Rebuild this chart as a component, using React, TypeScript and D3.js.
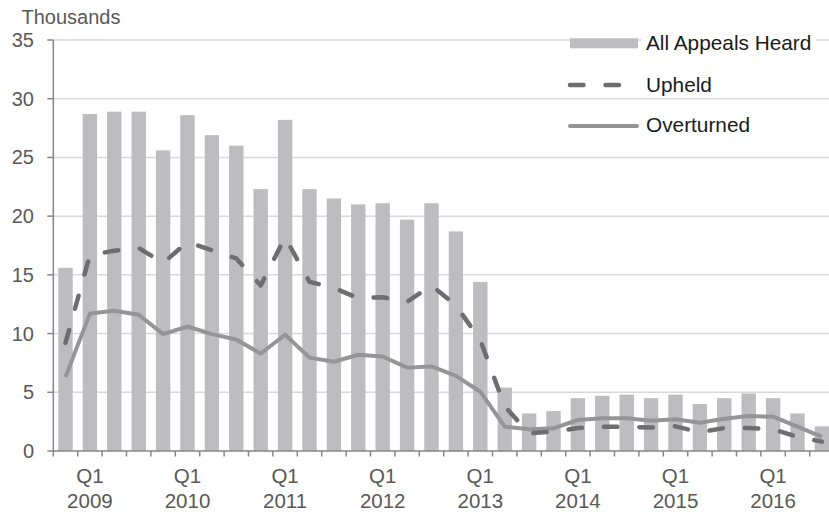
import React from "react";
import * as d3 from "d3";

const quarters = [
  "Q4 2008",
  "Q1 2009", "Q2 2009", "Q3 2009", "Q4 2009",
  "Q1 2010", "Q2 2010", "Q3 2010", "Q4 2010",
  "Q1 2011", "Q2 2011", "Q3 2011", "Q4 2011",
  "Q1 2012", "Q2 2012", "Q3 2012", "Q4 2012",
  "Q1 2013", "Q2 2013", "Q3 2013", "Q4 2013",
  "Q1 2014", "Q2 2014", "Q3 2014", "Q4 2014",
  "Q1 2015", "Q2 2015", "Q3 2015", "Q4 2015",
  "Q1 2016", "Q2 2016", "Q3 2016",
];

const allHeard = [
  15.6,
  28.7, 28.9, 28.9, 25.6,
  28.6, 26.9, 26.0, 22.3,
  28.2, 22.3, 21.5, 21.0,
  21.1, 19.7, 21.1, 18.7,
  14.4, 5.4, 3.2, 3.4,
  4.5, 4.7, 4.8, 4.5,
  4.8, 4.0, 4.5, 4.9,
  4.5, 3.2, 2.1,
];

const upheld = [
  9.2,
  16.7, 17.05, 17.3, 16.0,
  17.8, 17.1, 16.4, 14.1,
  18.2, 14.4, 13.9, 13.0,
  13.1, 12.7, 14.1, 12.4,
  9.45, 3.8, 1.5, 1.65,
  1.95, 2.07, 2.05, 2.0,
  2.1, 1.6, 1.95, 1.95,
  1.85, 1.2, 0.8,
];

const overturned = [
  6.3,
  11.7, 11.95, 11.6, 9.95,
  10.6, 9.95, 9.5, 8.3,
  9.9, 7.95, 7.6, 8.2,
  8.05, 7.1, 7.2, 6.4,
  5.05, 2.07, 1.85, 1.93,
  2.64, 2.78, 2.78, 2.58,
  2.7, 2.41, 2.75, 2.98,
  2.92, 2.07, 1.2,
];

const yTicks = [0, 5, 10, 15, 20, 25, 30, 35];
const legendLabels = ["All Appeals Heard", "Upheld", "Overturned"];

const W = 829;
const H = 512;
const x0 = 53.3;
const step = 24.4;
const FONT = "Liberation Sans, Arial, sans-serif";

const BAR = "#bdbdc0";
const UPHELD = "#6e6e70";
const OVER = "#959597";
const GRID = "#d9d9d9";
const AXIS = "#868686";
const LABEL = "#595959";
const DASH = "13.5 22";

export default function App() {
  const x = d3
    .scaleBand<number>()
    .domain(quarters.map((_, i) => i))
    .range([x0, x0 + step * quarters.length])
    .paddingInner(0.41)
    .paddingOuter(0.205);
  const y = d3.scaleLinear().domain([0, 35]).range([451, 40]);
  const cx = (i: number) => (x(i) as number) + x.bandwidth() / 2;

  const lineGen = d3
    .line<number>()
    .x((_, i) => cx(i))
    .y((d) => y(d));

  const boundaries = d3.range(quarters.length + 1).map((i) => x0 + i * x.step());

  return (
    <svg
      width={W}
      height={H}
      style={{ position: "absolute", left: 0, top: 0, background: "#fff" }}
      fontFamily={FONT}
    >
      {/* gridlines */}
      {yTicks.slice(1).map((t) => (
        <line key={t} x1={x0} x2={W} y1={y(t)} y2={y(t)} stroke={GRID} strokeWidth={1.5} />
      ))}
      {/* bars */}
      {allHeard.map((v, i) => (
        <rect
          key={i}
          x={x(i)}
          y={y(v)}
          width={x.bandwidth()}
          height={y(0) - y(v)}
          fill={BAR}
        />
      ))}
      {/* lines */}
      <path d={lineGen(overturned) || ""} fill="none" stroke={OVER} strokeWidth={4} strokeLinejoin="round" />
      <path
        d={lineGen(upheld) || ""}
        fill="none"
        stroke={UPHELD}
        strokeWidth={4.5}
        strokeDasharray={DASH}
        strokeLinecap="round"
        strokeLinejoin="round"
      />
      {/* y axis */}
      <line x1={x0} x2={x0} y1={y(35)} y2={y(0)} stroke={AXIS} strokeWidth={1.5} />
      {yTicks.map((t) => (
        <g key={t}>
          <line x1={x0 - 6} x2={x0} y1={y(t)} y2={y(t)} stroke={AXIS} strokeWidth={1.5} />
          <text x={34} y={y(t) + 7} textAnchor="end" fontSize={20} fill={LABEL}>
            {t}
          </text>
        </g>
      ))}
      {/* x axis */}
      <line x1={x0} x2={W} y1={y(0)} y2={y(0)} stroke={AXIS} strokeWidth={1.5} />
      {boundaries.map((b, i) => (
        <line key={i} x1={b} x2={b} y1={y(0)} y2={y(0) + 5.5} stroke={AXIS} strokeWidth={1.5} />
      ))}
      {quarters.map((q, i) => {
        const [qq, yr] = q.split(" ");
        if (qq !== "Q1") return null;
        return (
          <g key={q}>
            <text x={cx(i)} y={483} textAnchor="middle" fontSize={20.5} fill={LABEL}>
              {qq}
            </text>
            <text x={cx(i)} y={508} textAnchor="middle" fontSize={20.5} fill={LABEL}>
              {yr}
            </text>
          </g>
        );
      })}
      <text x={21.5} y={24} fontSize={20} fill={LABEL}>
        Thousands
      </text>
      {/* legend */}
      <rect x={570} y={38.3} width={68} height={10} fill={BAR} />
      <rect x={642} y={34} width={174} height={17} fill="#fff" />
      <text x={646} y={50} fontSize={20.8} fill="#1a1a1a">
        {legendLabels[0]}
      </text>
      <line
        x1={570}
        x2={638}
        y1={85}
        y2={85}
        stroke={UPHELD}
        strokeWidth={4.5}
        strokeDasharray={DASH}
        strokeLinecap="round"
      />
      <text x={646} y={91.5} fontSize={20.8} fill="#1a1a1a">
        {legendLabels[1]}
      </text>
      <line x1={570} x2={637} y1={126} y2={126} stroke={OVER} strokeWidth={4} strokeLinecap="round" />
      <text x={646} y={132} fontSize={20.8} fill="#1a1a1a">
        {legendLabels[2]}
      </text>
    </svg>
  );
}
